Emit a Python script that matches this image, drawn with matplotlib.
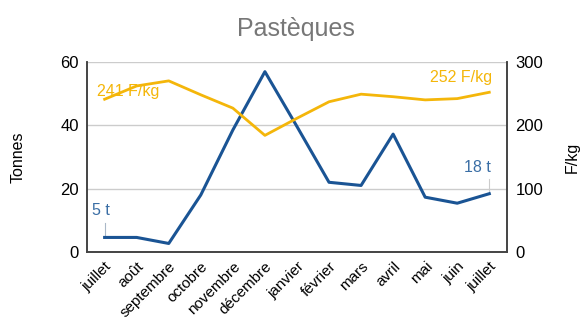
import matplotlib
matplotlib.use("Agg")
import matplotlib.pyplot as plt
import matplotlib.transforms as mtrans

months = ["juillet", "août", "septembre", "octobre", "novembre", "décembre",
          "janvier", "février", "mars", "avril", "mai", "juin", "juillet"]
tonnes = [4.6, 4.6, 2.7, 18, 38.5, 56.9, 39.6, 22, 21, 37.2, 17.3, 15.4, 18.4]
prix = [241, 262, 270, 248, 227, 184, 211, 237, 249, 245, 240, 242, 252]
first_t_label = "5 t"
last_t_label = "18 t"
first_p_label = "241 F/kg"
last_p_label = "252 F/kg"

blue = "#1a5494"
blue_txt = "#3a6ea5"
orange = "#f4b60a"

plt.rcParams['font.family'] = ['Liberation Sans', 'DejaVu Sans']
fig = plt.figure(figsize=(5.8, 3.18), dpi=100)
ax = fig.add_axes([0.15, 0.2075, 0.724, 0.598])
ax2 = ax.twinx()

x = list(range(len(months)))
ax.plot(x, tonnes, color=blue, lw=2.2, zorder=3)
ax2.plot(x, prix, color=orange, lw=2.0, zorder=2)

ax.set_ylim(0, 60)
ax.set_yticks([0, 20, 40, 60])
ax2.set_ylim(0, 300)
ax2.set_yticks([0, 100, 200, 300])
ax.set_xlim(-0.55, 12.55)
ax.set_xticks(x)
ax.set_xticklabels(months, rotation=45, ha='right', rotation_mode='anchor', fontsize=11)
offset = mtrans.ScaledTranslation(6 / 100, 0, fig.dpi_scale_trans)
for lab in ax.get_xticklabels():
    lab.set_transform(lab.get_transform() + offset)
ax.grid(axis='y', color='#cccccc', lw=1)
ax.set_axisbelow(True)
ax.tick_params(axis='y', length=0, labelsize=12, pad=6)
ax2.tick_params(axis='y', length=0, labelsize=12, pad=6)
ax.tick_params(axis='x', length=0, pad=5)

for a in (ax, ax2):
    a.spines['top'].set_visible(False)
    for s in ('left', 'right', 'bottom'):
        a.spines[s].set_color('#444444')
        a.spines[s].set_linewidth(1.2)

ax.set_ylabel("Tonnes", fontsize=11.5, va='center')
ax.yaxis.set_label_coords(-0.164, 0.5)
ax2.set_ylabel("F/kg", fontsize=11.5, va='center', rotation=90)
ax2.yaxis.set_label_coords(1.155, 0.5)

# annotations
ax.plot([0, 0], [tonnes[0], tonnes[0] + 4.5], color='#aab8c8', lw=0.8, zorder=2)
ax.text(-0.4, tonnes[0] + 6, first_t_label, color=blue_txt, fontsize=11.5, ha='left', va='bottom')
ax.plot([12, 12], [tonnes[-1], tonnes[-1] + 4.5], color='#cccccc', lw=0.8, zorder=2)
ax.text(12.05, tonnes[-1] + 6, last_t_label, color=blue_txt, fontsize=11.5, ha='right', va='bottom')
ax2.text(-0.25, prix[0] + 12, first_p_label, color=orange, fontsize=11.5, ha='left', va='center', zorder=5)
ax2.text(12.1, prix[-1] + 12, last_p_label, color=orange, fontsize=11.5, ha='right', va='bottom')

fig.suptitle("Pastèques", fontsize=18, color='#777777', x=0.51, y=0.945)

fig.savefig("out.png", dpi=100)
